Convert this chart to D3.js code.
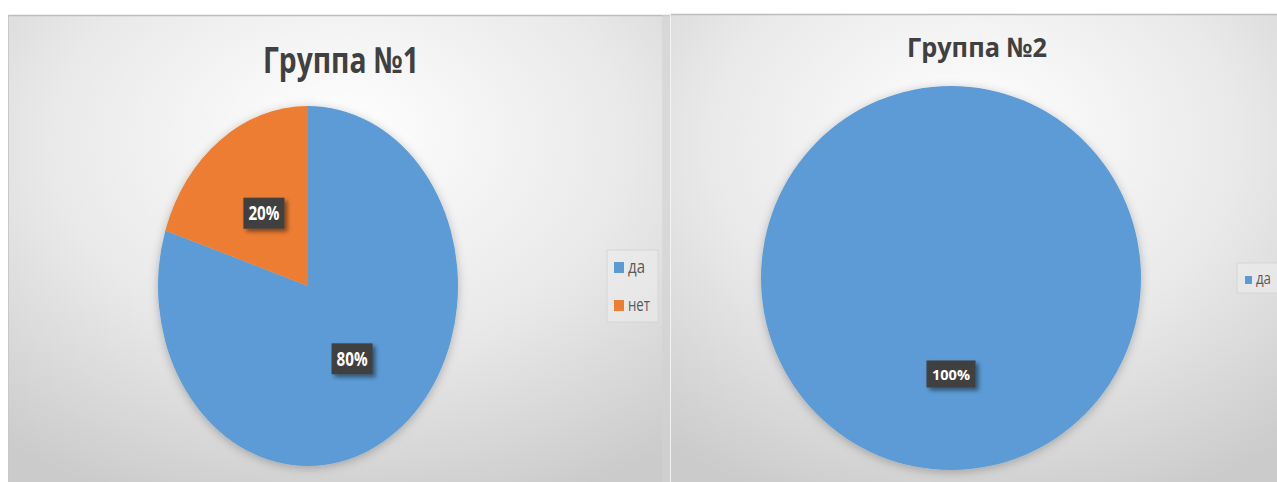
<!DOCTYPE html>
<html>
<head>
<meta charset="utf-8">
<script src="https://cdn.jsdelivr.net/npm/d3@7"></script>
<style>
  html, body { margin: 0; padding: 0; background: #ffffff; }
  svg { display: block; }
</style>
</head>
<body>
<svg id="chart" width="1277" height="482"></svg>
<script>
// Survey answers for the two groups
const answerCategories = ["да", "нет"];
const group1Values = [80, 20];
const group2Categories = ["да"];
const group2Values = [100];
const chartTitles = ["Группа №1", "Группа №2"];

const colors = d3.scaleOrdinal()
  .domain(answerCategories)
  .range(["#5b9bd5", "#ed7d31"]);

const svg = d3.select("#chart");
const defs = svg.append("defs");

// Panel backgrounds: soft radial gradient
const grad = defs.append("radialGradient")
  .attr("id", "panelGrad")
  .attr("cx", "50%").attr("cy", "30%").attr("r", "80%")
  .attr("fx", "50%").attr("fy", "25%");
grad.append("stop").attr("offset", "0%").attr("stop-color", "#ffffff");
grad.append("stop").attr("offset", "55%").attr("stop-color", "#e9e9e9");
grad.append("stop").attr("offset", "100%").attr("stop-color", "#cbcbcb");

const pieShadow = defs.append("filter").attr("id", "pieShadow")
  .attr("x", "-20%").attr("y", "-20%").attr("width", "140%").attr("height", "140%");
pieShadow.append("feDropShadow")
  .attr("dx", 0).attr("dy", 2).attr("stdDeviation", 5)
  .attr("flood-color", "#000").attr("flood-opacity", 0.25);

const boxShadow = defs.append("filter").attr("id", "boxShadow")
  .attr("x", "-30%").attr("y", "-30%").attr("width", "170%").attr("height", "170%");
boxShadow.append("feDropShadow")
  .attr("dx", 3).attr("dy", 3).attr("stdDeviation", 2)
  .attr("flood-color", "#000").attr("flood-opacity", 0.45);

// Layout of the two chart panels
const panels = [
  {
    box: { x: 8, y: 15, w: 662, h: 467 },
    title: chartTitles[0], titleX: 341, titleY: 73, titleSize: 36, titleLen: 156,
    pie: { cx: 308, cy: 286, rx: 150, ry: 180 },
    cats: answerCategories, values: group1Values,
    label: { size: 19, len: 31, padX: 5, h: 31, capShift: 7 },
    legend: { x: 607, y: 250, w: 51, h: 72, rowY: [262, 300], mark: 10, textX: 628, textSize: 18, textLens: [17, 22] }
  },
  {
    box: { x: 670, y: 14, w: 607, h: 468 },
    title: chartTitles[1], titleX: 977, titleY: 57, titleSize: 27, titleLen: 140,
    pie: { cx: 951, cy: 278, rx: 190, ry: 192 },
    cats: group2Categories, values: group2Values,
    label: { size: 15, len: 38, padX: 5.5, h: 27, capShift: 5.5 },
    legend: { x: 1237, y: 263, w: 45, h: 30, rowY: [276], mark: 7, textX: 1256, textSize: 16, textLens: [15] }
  }
];

const pie = d3.pie().sort(null).value(d => d.value);
const arcUnit = d3.arc().innerRadius(0).outerRadius(1);

panels.forEach(p => {
  const g = svg.append("g");

  // panel background
  g.append("rect")
    .attr("x", p.box.x).attr("y", p.box.y)
    .attr("width", p.box.w).attr("height", p.box.h)
    .attr("fill", "url(#panelGrad)");
  g.append("line")
    .attr("x1", p.box.x).attr("x2", p.box.x + p.box.w)
    .attr("y1", p.box.y + 0.5).attr("y2", p.box.y + 0.5)
    .attr("stroke", "#bdbdbd").attr("stroke-width", 1.5);
  g.append("line")
    .attr("x1", p.box.x + 0.5).attr("x2", p.box.x + 0.5)
    .attr("y1", p.box.y).attr("y2", p.box.y + p.box.h)
    .attr("stroke", "#c8c8c8").attr("stroke-width", 1);

  // title
  g.append("text")
    .attr("x", p.titleX).attr("y", p.titleY)
    .attr("text-anchor", "middle")
    .attr("font-family", "'Open Sans', 'Noto Sans', sans-serif")
    .attr("font-weight", 700)
    .attr("font-size", p.titleSize)
    .attr("textLength", p.titleLen)
    .attr("lengthAdjust", "spacingAndGlyphs")
    .attr("fill", "#404040")
    .text(p.title);

  // pie (unit arcs stretched to the panel's ellipse)
  const data = p.cats.map((c, i) => ({ cat: c, value: p.values[i] }));
  const arcs = pie(data);
  const total = d3.sum(p.values);

  const shadowWrap = g.append("g").attr("filter", "url(#pieShadow)");
  const pg = shadowWrap.append("g")
    .attr("transform", `translate(${p.pie.cx},${p.pie.cy}) scale(${p.pie.rx},${p.pie.ry})`);
  pg.selectAll("path")
    .data(arcs)
    .join("path")
    .attr("d", arcUnit)
    .attr("fill", d => colors(d.data.cat));

  // data labels
  arcs.forEach(a => {
    const [ux, uy] = arcUnit.centroid(a);
    const lx = p.pie.cx + ux * p.pie.rx;
    const ly = p.pie.cy + uy * p.pie.ry;
    const txt = d3.format(".0%")(a.data.value / total);
    const bw = p.label.len + 2 * p.label.padX;
    const lg = g.append("g");
    lg.append("rect")
      .attr("x", lx - bw / 2).attr("y", ly - p.label.h / 2)
      .attr("width", bw).attr("height", p.label.h)
      .attr("fill", "#3f3f3f")
      .attr("filter", "url(#boxShadow)");
    lg.append("text")
      .attr("x", lx).attr("y", ly + p.label.capShift)
      .attr("text-anchor", "middle")
      .attr("font-family", "'Open Sans', 'Noto Sans', sans-serif")
      .attr("font-weight", 700)
      .attr("font-size", p.label.size)
      .attr("textLength", p.label.len)
      .attr("lengthAdjust", "spacingAndGlyphs")
      .attr("fill", "#ffffff")
      .text(txt);
  });

  // legend
  const L = p.legend;
  g.append("rect")
    .attr("x", L.x).attr("y", L.y).attr("width", L.w).attr("height", L.h)
    .attr("fill", "#ececec").attr("fill-opacity", 0.6)
    .attr("stroke", "#d6d6d6").attr("stroke-width", 1);
  p.cats.forEach((c, i) => {
    g.append("rect")
      .attr("x", L.textX - L.mark - 4).attr("y", L.rowY[i])
      .attr("width", L.mark).attr("height", L.mark + 1)
      .attr("fill", colors(c));
    g.append("text")
      .attr("x", L.textX).attr("y", L.rowY[i] + L.mark + 1)
      .attr("font-family", "'Open Sans', 'Noto Sans', sans-serif")
      .attr("font-size", L.textSize)
      .attr("textLength", L.textLens[i])
      .attr("lengthAdjust", "spacingAndGlyphs")
      .attr("fill", "#595959")
      .text(c);
  });
});

// soft edge where the two panels meet
svg.append("rect")
  .attr("x", 662).attr("y", 15).attr("width", 8).attr("height", 467)
  .attr("fill", "#d2d2d2").attr("fill-opacity", 0.6);
svg.append("line")
  .attr("x1", 670.5).attr("x2", 670.5).attr("y1", 14).attr("y2", 482)
  .attr("stroke", "#f2f2f2").attr("stroke-width", 1);
</script>
</body>
</html>
